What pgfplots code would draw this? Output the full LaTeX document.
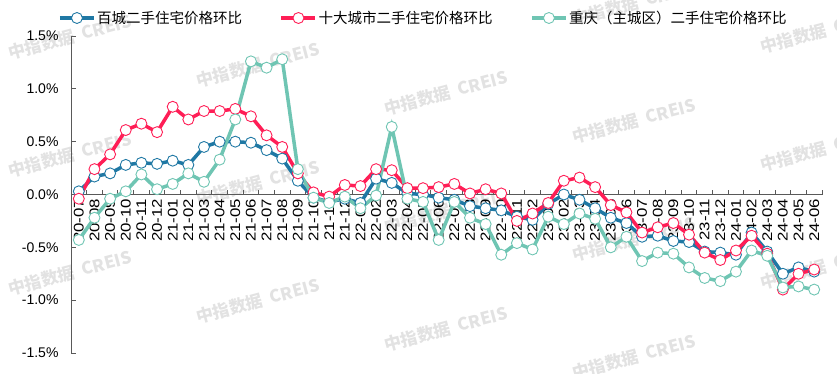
\documentclass[border=0pt]{standalone}
\usepackage{fontspec}
\setmainfont{Liberation Sans}
\newfontfamily\cjk{Noto Sans CJK SC}
\usepackage{graphicx}
\usepackage{pgfplots}
\usepackage{pgfplotstable}
\pgfplotsset{compat=1.18}
\definecolor{cBlue}{HTML}{1F78A4}
\definecolor{cRed}{HTML}{FF1E56}
\definecolor{cTeal}{HTML}{6FC5B3}
\definecolor{wm}{HTML}{E2E2E2}
\definecolor{axgray}{HTML}{595959}
\newcommand{\xl}[1]{\scalebox{1.2}[1]{#1}}
\pgfplotstableread{
i b r t
0 0.03 -0.04 -0.43
1 0.17 0.24 -0.22
2 0.20 0.38 -0.04
3 0.28 0.61 0.03
4 0.30 0.67 0.19
5 0.29 0.59 0.05
6 0.32 0.83 0.10
7 0.28 0.71 0.20
8 0.45 0.79 0.12
9 0.50 0.79 0.33
10 0.50 0.81 0.71
11 0.49 0.74 1.26
12 0.42 0.56 1.20
13 0.34 0.45 1.28
14 0.13 0.20 0.24
15 -0.03 0.02 -0.03
16 -0.07 -0.02 -0.08
17 -0.04 0.09 -0.02
18 -0.08 0.08 -0.13
19 0.15 0.24 -0.01
20 0.11 0.23 0.64
21 0.01 0.06 -0.04
22 0.00 0.06 -0.07
23 -0.03 0.07 -0.43
24 -0.05 0.10 -0.07
25 -0.11 0.01 -0.22
26 -0.13 0.05 -0.28
27 -0.15 0.01 -0.57
28 -0.21 -0.25 -0.46
29 -0.24 -0.18 -0.52
30 -0.09 -0.08 -0.21
31 0.00 0.13 -0.28
32 -0.05 0.16 -0.18
33 -0.13 0.07 -0.23
34 -0.22 -0.10 -0.50
35 -0.27 -0.17 -0.40
36 -0.40 -0.36 -0.63
37 -0.39 -0.31 -0.55
38 -0.44 -0.27 -0.56
39 -0.45 -0.38 -0.69
40 -0.54 -0.55 -0.79
41 -0.55 -0.62 -0.82
42 -0.57 -0.53 -0.73
43 -0.36 -0.39 -0.53
44 -0.54 -0.56 -0.58
45 -0.75 -0.90 -0.88
46 -0.69 -0.75 -0.87
47 -0.73 -0.71 -0.90
}\data
\begin{document}
\begin{tikzpicture}
\useasboundingbox (-71bp,-21bp) rectangle (766bp,353bp);
\tikzset{wmk/.style={rotate=15, text=wm, font=\cjk\bfseries\fontsize{17bp}{17bp}\selectfont, inner sep=0pt}}
\foreach \x/\y in {-1/316, -1/198, -1/80, 187/288, 187/170, 187/52, 375/260, 375/142, 375/24, 563/350, 563/232, 563/114, 563/-4, 751/322, 751/204, 751/86}{
  \node[wmk] at (\x bp,\y bp) {中指数据\ \ CREIS};
}
\begin{axis}[
  scale only axis,
  width=751bp, height=317bp,
  xmin=-0.5, xmax=47.5,
  ymin=-1.5, ymax=1.5,
  axis x line=middle,
  axis y line=left,
  axis line style={-, draw=axgray, line width=0.9bp},
  clip=false,
  xtick={0,...,47},
  xticklabels={\xl{20-07},\xl{20-08},\xl{20-09},\xl{20-10},\xl{20-11},\xl{20-12},\xl{21-01},\xl{21-02},\xl{21-03},\xl{21-04},\xl{21-05},\xl{21-06},\xl{21-07},\xl{21-08},\xl{21-09},\xl{21-10},\xl{21-11},\xl{21-12},\xl{22-01},\xl{22-02},\xl{22-03},\xl{22-04},\xl{22-05},\xl{22-06},\xl{22-07},\xl{22-08},\xl{22-09},\xl{22-10},\xl{22-11},\xl{22-12},\xl{23-01},\xl{23-02},\xl{23-03},\xl{23-04},\xl{23-05},\xl{23-06},\xl{23-07},\xl{23-08},\xl{23-09},\xl{23-10},\xl{23-11},\xl{23-12},\xl{24-01},\xl{24-02},\xl{24-03},\xl{24-04},\xl{24-05},\xl{24-06}},
  major x tick style={draw=none},
  minor xtick={-0.5,0.5,...,47.5},
  minor x tick style={draw=axgray, line width=0.9bp, yshift=2.2bp},
  minor tick length=4.5bp,
  xticklabel style={rotate=90, anchor=east, inner sep=2bp, font=\fontsize{14bp}{16bp}\selectfont},
  ytick={-1.5,-1,-0.5,0,0.5,1,1.5},
  yticklabels={-1.5\%,-1.0\%,-0.5\%,0.0\%,0.5\%,1.0\%,1.5\%},
  ytick align=inside,
  major tick length=4.5bp,
  y tick style={draw=axgray, line width=0.9bp},
  yticklabel style={font=\fontsize{14bp}{16bp}\selectfont, xshift=-9bp},
  legend style={at={(axis description cs:0,1)}, anchor=west, xshift=-13bp, yshift=18bp,
    draw=none, fill=none, inner sep=0pt,
    font=\cjk\fontsize{14.5bp}{16bp}\selectfont,
    nodes={inner sep=1.5bp},
    /tikz/every even column/.append style={column sep=36bp}},
  legend columns=3,
  legend cell align=left,
  legend image code/.code={\draw[#1,mark repeat=2,mark phase=2] plot coordinates {(0bp,0bp) (17bp,0bp) (34bp,0bp)};},
]
\addplot[cBlue, line width=3.5bp, mark=*, mark size=5.5bp, mark options={fill=white, draw=cBlue, line width=0.9bp, solid}] table[x=i,y=b]{\data};
\addlegendentry{百城二手住宅价格环比}
\addplot[cRed, line width=3.5bp, mark=*, mark size=5.5bp, mark options={fill=white, draw=cRed, line width=0.9bp, solid}] table[x=i,y=r]{\data};
\addlegendentry{十大城市二手住宅价格环比}
\addplot[cTeal, line width=3.5bp, mark=*, mark size=5.5bp, mark options={fill=white, draw=cTeal, line width=0.9bp, solid}] table[x=i,y=t]{\data};
\addlegendentry{重庆（主城区）二手住宅价格环比}
\end{axis}
\end{tikzpicture}
\end{document}
